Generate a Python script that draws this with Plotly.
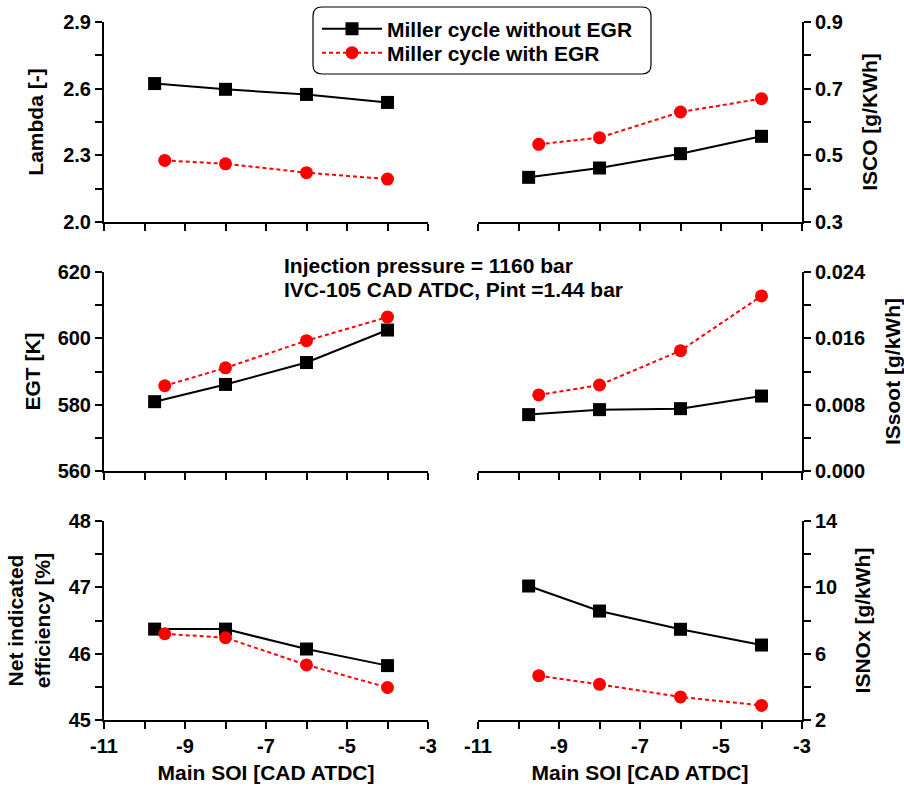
import plotly.graph_objects as go

# ---------------- data ----------------
soi_without = [-9.75, -8, -6, -4]
soi_with = [-9.5, -8, -6, -4]

lambda_without = [2.623, 2.597, 2.574, 2.538]
lambda_with = [2.277, 2.262, 2.222, 2.193]

isco_without = [0.434, 0.462, 0.505, 0.557]
isco_with = [0.533, 0.553, 0.630, 0.670]

egt_without = [580.9, 586.1, 592.7, 602.5]
egt_with = [585.7, 591.1, 599.3, 606.4]

issoot_without = [0.0068, 0.0074, 0.00752, 0.00904]
issoot_with = [0.00917, 0.01037, 0.01451, 0.02111]

eff_without = [46.37, 46.37, 46.07, 45.82]
eff_with = [46.30, 46.24, 45.83, 45.49]

isnox_without = [10.08, 8.57, 7.47, 6.52]
isnox_with = [4.67, 4.15, 3.39, 2.88]

name_without = "Miller cycle without EGR"
name_with = "Miller cycle with EGR"

x_ticks = [-11, -9, -7, -5, -3]
x_ticklabels = ["-11", "-9", "-7", "-5", "-3"]

lambda_ticks = [2.0, 2.3, 2.6, 2.9]
lambda_labels = ["2.0", "2.3", "2.6", "2.9"]
isco_ticks = [0.3, 0.5, 0.7, 0.9]
isco_labels = ["0.3", "0.5", "0.7", "0.9"]
egt_ticks = [560, 580, 600, 620]
egt_labels = ["560", "580", "600", "620"]
issoot_ticks = [0.0, 0.008, 0.016, 0.024]
issoot_labels = ["0.000", "0.008", "0.016", "0.024"]
eff_ticks = [45, 46, 47, 48]
eff_labels = ["45", "46", "47", "48"]
isnox_ticks = [2, 6, 10, 14]
isnox_labels = ["2", "6", "10", "14"]

W, H = 904, 787
FONT = "Liberation Sans, Arial, Helvetica, sans-serif"
TICK_FS = 20
TEXT_FS = 21

def b(s):
    return f"<b>{s}</b>"

# panel definitions
panels = [
    (lambda_without, lambda_with, [2.0, 2.9], lambda_ticks, lambda_labels, 0.15, "Lambda [-]", "left", 0, 0, 14),
    (isco_without, isco_with, [0.3, 0.9], isco_ticks, isco_labels, 0.1, "ISCO [g/KWh]", "right", 1, 0, 20),
    (egt_without, egt_with, [560, 620], egt_ticks, egt_labels, 10, "EGT [K]", "left", 0, 1, 11),
    (issoot_without, issoot_with, [0.0, 0.024], issoot_ticks, issoot_labels, 0.004, "ISsoot [g/kWh]", "right", 1, 1, 20),
    (eff_without, eff_with, [45, 48], eff_ticks, eff_labels, 0.5, "Net indicated<br>efficiency [%]", "left", 0, 2, 12),
    (isnox_without, isnox_with, [2, 14], isnox_ticks, isnox_labels, 2, "ISNOx [g/kWh]", "right", 1, 2, 18),
]

# pixel geometry of plot areas
col_px = [(104, 428), (478, 802)]
row_px = [(22, 222), (272, 471), (521, 720)]

fig = go.Figure()
layout = {}
tickfont = dict(family=FONT, size=TICK_FS, color="black")
textfont = dict(family=FONT, size=TEXT_FS, color="black")

for i, (yw, yr, rng, tv, tt, mn, title, side, col, row, so) in enumerate(panels):
    n = i + 1
    xa = "x" if n == 1 else f"x{n}"
    ya = "y" if n == 1 else f"y{n}"
    fig.add_trace(go.Scatter(
        x=soi_without, y=yw, xaxis=xa, yaxis=ya, mode="lines+markers",
        name=b(name_without), showlegend=(n == 1), legend="legend",
        line=dict(color="black", width=2),
        marker=dict(symbol="square", size=13, color="black"),
    ))
    fig.add_trace(go.Scatter(
        x=soi_with, y=yr, xaxis=xa, yaxis=ya, mode="lines+markers",
        name=b(name_with), showlegend=(n == 1), legend="legend2",
        line=dict(color="#ff0000", width=2, dash="4px,3px"),
        marker=dict(symbol="circle", size=13, color="#ff0000"),
    ))
    x0, x1 = col_px[col]
    y0, y1 = row_px[row]
    bottom = row == 2
    layout["xaxis" if n == 1 else f"xaxis{n}"] = dict(
        domain=[x0 / W, x1 / W], anchor=ya, range=[-11, -3],
        tickvals=x_ticks, ticktext=[b(t) for t in x_ticklabels], showticklabels=bottom,
        ticks="outside", ticklen=7, tickwidth=1.5, tickcolor="black",
        minor=dict(dtick=1, tick0=-11, ticks="outside", ticklen=7, tickwidth=1.5, tickcolor="black"),
        showline=True, linecolor="black", linewidth=2, showgrid=False, zeroline=False,
        tickfont=tickfont,
        title=dict(text=b("Main SOI [CAD ATDC]") if bottom else "", standoff=9, font=textfont),
        automargin=False,
    )
    layout["yaxis" if n == 1 else f"yaxis{n}"] = dict(
        domain=[1 - y1 / H, 1 - y0 / H], anchor=xa, side=side, range=rng,
        tickvals=tv, ticktext=[b(t) for t in tt],
        ticks="outside", ticklen=7, tickwidth=1.5, tickcolor="black",
        minor=dict(dtick=mn, tick0=rng[0], ticks="outside", ticklen=7, tickwidth=1.5, tickcolor="black"),
        showline=True, linecolor="black", linewidth=2, showgrid=False, zeroline=False,
        tickfont=tickfont,
        title=dict(text="<br>".join(b(p) for p in title.split("<br>")),
                   standoff=so, font=textfont),
        automargin=False,
    )

# rounded legend frame
lx0, lx1, ly0, ly1, r = 313, 651, 7, 74, 9
def px(x):
    return x / W
def py(y):
    return 1 - y / H
path = (
    f"M{px(lx0 + r)},{py(ly0)} L{px(lx1 - r)},{py(ly0)} "
    f"Q{px(lx1)},{py(ly0)} {px(lx1)},{py(ly0 + r)} "
    f"L{px(lx1)},{py(ly1 - r)} Q{px(lx1)},{py(ly1)} {px(lx1 - r)},{py(ly1)} "
    f"L{px(lx0 + r)},{py(ly1)} Q{px(lx0)},{py(ly1)} {px(lx0)},{py(ly1 - r)} "
    f"L{px(lx0)},{py(ly0 + r)} Q{px(lx0)},{py(ly0)} {px(lx0 + r)},{py(ly0)} Z"
)

legend_common = dict(xanchor="left", yanchor="middle", bgcolor="rgba(0,0,0,0)",
                     borderwidth=0, itemwidth=60, font=textfont)

fig.update_layout(
    **layout,
    width=W, height=H,
    margin=dict(l=0, r=0, t=0, b=0),
    paper_bgcolor="white", plot_bgcolor="rgba(0,0,0,0)",
    font=dict(family=FONT, size=TEXT_FS, color="black"),
    showlegend=True,
    legend=dict(x=px(lx0 + 4), y=py(29), **legend_common),
    legend2=dict(x=px(lx0 + 4), y=py(53), **legend_common),
    shapes=[dict(type="path", xref="paper", yref="paper", path=path,
                 line=dict(color="black", width=1.2), fillcolor="rgba(0,0,0,0)")],
    annotations=[
        dict(text=b("Injection pressure = 1160 bar"), x=px(282), y=py(265), xref="paper", yref="paper",
             xanchor="left", yanchor="middle", showarrow=False, font=textfont),
        dict(text=b("IVC-105 CAD ATDC, Pint =1.44 bar"), x=px(282), y=py(289), xref="paper", yref="paper",
             xanchor="left", yanchor="middle", showarrow=False, font=textfont),
    ],
)

fig.write_html("out.html")
